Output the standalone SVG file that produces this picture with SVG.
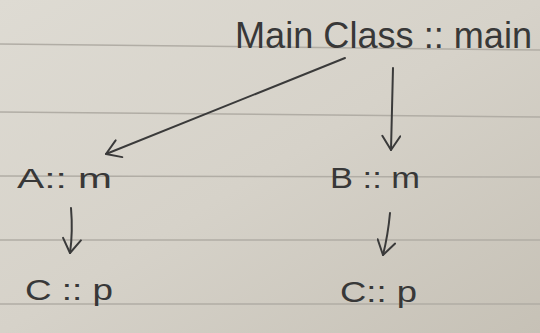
<svg xmlns="http://www.w3.org/2000/svg" width="540" height="333" viewBox="0 0 540 333">
<defs>
<linearGradient id="paper" x1="0" y1="0" x2="1" y2="1">
<stop offset="0" stop-color="#dedbd3"/>
<stop offset="0.5" stop-color="#d6d2c9"/>
<stop offset="1" stop-color="#c6c1b6"/>
</linearGradient>
<marker id="arr" viewBox="-16 -10 18 20" markerWidth="18" markerHeight="20" refX="0" refY="0" orient="auto" markerUnits="userSpaceOnUse">
<path d="M -14 -9 L 0 0 L -14 9" fill="none" stroke="#3a3a3a" stroke-width="2" stroke-linecap="round" stroke-linejoin="round"/>
</marker>
<style>
.ink{font-family:"Liberation Sans","DejaVu Sans",sans-serif;fill:#383838;}
.rule{stroke:#b1ada5;stroke-width:1.5;fill:none;}
.edge{stroke:#3a3a3a;stroke-width:2;fill:none;stroke-linecap:round;marker-end:url(#arr);}
</style>
</defs>
<rect width="540" height="333" fill="url(#paper)"/>
<g id="rules">
<path class="rule" d="M0 44 L540 50"/>
<path class="rule" d="M0 112 L540 117"/>
<path class="rule" d="M0 176 L540 177"/>
<path class="rule" d="M0 240 L540 240"/>
<path class="rule" d="M0 304 L540 304"/>
</g>
<g id="connectors">
<path class="edge" d="M345 58 L106 154"/>
<path class="edge" d="M393 68 L391 150"/>
<path class="edge" d="M71 208 Q73 232 70 253"/>
<path class="edge" d="M390 213 Q388 235 383 255"/>
</g>
<g id="main">
<text class="ink" x="235" y="48" font-size="36" textLength="297" lengthAdjust="spacingAndGlyphs">Main Class :: main</text>
</g>
<g id="a_m">
<text class="ink" x="17" y="188" font-size="28" textLength="95" lengthAdjust="spacingAndGlyphs">A:: m</text>
</g>
<g id="b_m">
<text class="ink" x="330" y="188" font-size="29" textLength="90" lengthAdjust="spacingAndGlyphs">B :: m</text>
</g>
<g id="c_p_left">
<text class="ink" x="25" y="300" font-size="30" textLength="88" lengthAdjust="spacingAndGlyphs">C :: p</text>
</g>
<g id="c_p_right">
<text class="ink" x="340" y="302" font-size="30" textLength="77" lengthAdjust="spacingAndGlyphs">C:: p</text>
</g>
</svg>
